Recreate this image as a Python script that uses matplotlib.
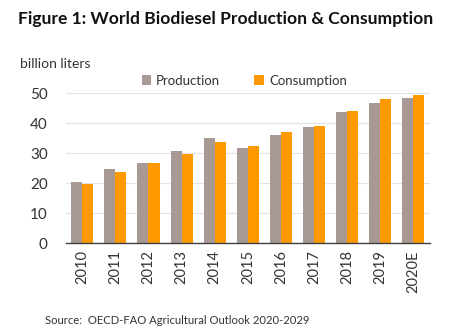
import matplotlib
matplotlib.use("Agg")
import matplotlib.pyplot as plt
import numpy as np

years = ["2010", "2011", "2012", "2013", "2014", "2015", "2016", "2017", "2018", "2019", "2020E"]
production = [20.6, 24.8, 26.8, 30.8, 35.1, 31.8, 36.1, 38.8, 43.8, 46.8, 48.4]
consumption = [19.8, 23.8, 26.8, 29.8, 33.8, 32.4, 37.1, 39.1, 44.1, 48.1, 49.4]
yticks = [0, 10, 20, 30, 40, 50]

plt.rcParams['font.family'] = ['Lato', 'DejaVu Sans']

fig = plt.figure(figsize=(4.5, 3.36), dpi=100)
ax = fig.add_axes([65.7 / 450, 1 - 243.3 / 336, (430 - 65.7) / 450, 150 / 336])

x = np.arange(len(years))
w = 1 / 3
ax.bar(x - w / 2, production, w, color='#A89995', label='Production', zorder=2)
ax.bar(x + w / 2, consumption, w, color='#FF9900', label='Consumption', zorder=2)

ax.set_xlim(-0.5, len(years) - 0.5)
ax.set_ylim(0, 50)
ax.set_yticks(yticks)
ax.set_xticks(x)
ax.set_xticklabels(years, rotation=90, fontsize=10.5, color='#333333')
ax.tick_params(axis='y', labelsize=11, colors='#333333', length=0, pad=13)
ax.tick_params(axis='x', length=0, pad=5)
ax.grid(axis='y', color='#E3E3E3', linewidth=0.8, zorder=0)
for s in ['top', 'right', 'left']:
    ax.spines[s].set_visible(False)
ax.spines['bottom'].set_color('#404040')
ax.spines['bottom'].set_linewidth(1.0)
ax.spines['bottom'].set_zorder(3)

ax.legend(loc='lower center', bbox_to_anchor=(0.49, 1.0), ncol=2, frameon=False,
          fontsize=9.5, handlelength=0.7, handleheight=0.7, handletextpad=0.4,
          columnspacing=2.6, borderaxespad=0.1, labelcolor='#333333')

fig.text(18 / 450, 1 - 19 / 336, "Figure 1: World Biodiesel Production & Consumption",
         fontsize=12.6, fontweight='bold', va='center', ha='left', color='#111111')
fig.text(20 / 450, 1 - 64 / 336, "billion liters", fontsize=10, va='center', ha='left',
         color='#333333')
fig.text(45 / 450, 1 - 320 / 336, "Source:  OECD-FAO Agricultural Outlook 2020-2029",
         fontsize=8.1, va='center', ha='left', color='#333333')

fig.savefig("out.png", dpi=100)
